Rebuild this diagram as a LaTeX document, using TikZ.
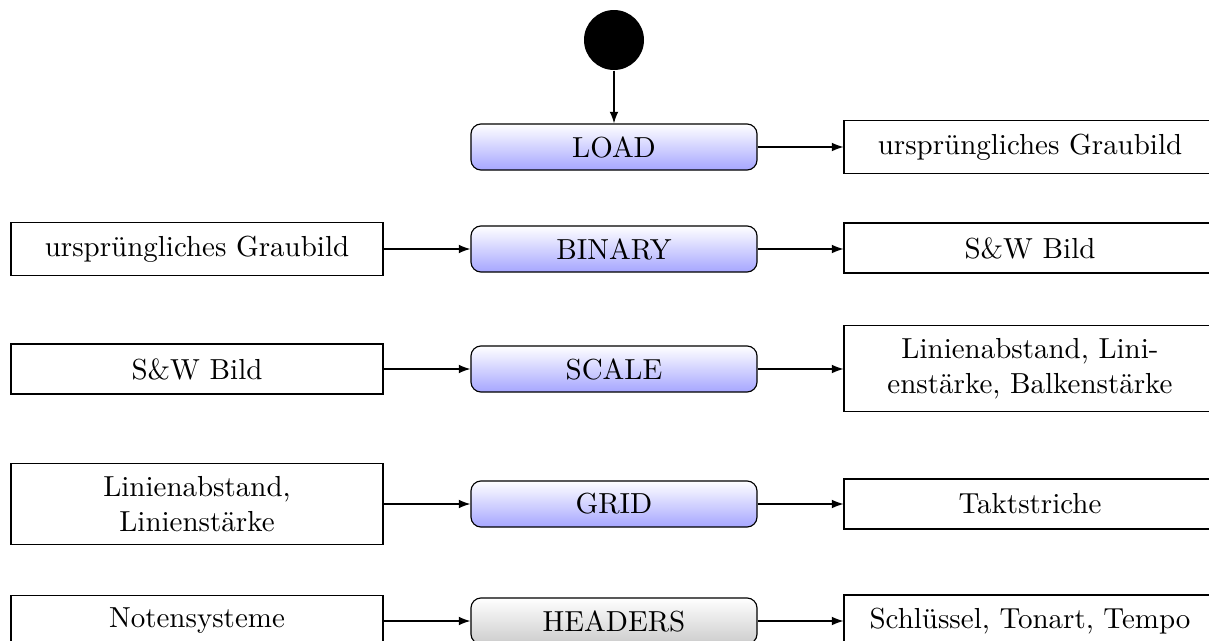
\documentclass[tikz,border=0pt]{standalone}
\usetikzlibrary{arrows.meta,positioning}
\begin{document}
\begin{tikzpicture}[x=0.345pt,y=-0.345pt,
  state/.style={draw, rounded corners=3.5pt, top color=white, bottom color=blue!35,
    minimum width=98.7pt, minimum height=15.9pt, inner sep=0pt},
  grstate/.style={state, bottom color=black!20},
  databox/.style={draw, minimum width=128.3pt, minimum height=17.2pt, align=center, inner sep=4.5pt},
  conn/.style={-{Latex[length=4pt,width=3pt]}, draw=black},
  startdot/.style={circle, fill=black, minimum size=20.7pt, inner sep=0pt}
]
\clip (0,0) rectangle (1209,641);
\useasboundingbox (0,0) rectangle (1209,641);

\node[startdot] (start) at (614,40) {};
\node[state] (load) at (614,147) {LOAD};
\node[state] (binary) at (614,249) {BINARY};
\node[state] (scale) at (614,369) {SCALE};
\node[state] (grid) at (614,504) {GRID};
\node[grstate] (headers) at (614,621) {HEADERS};

\node[databox] (r1) at (1030,147) {ursprüngliches Graubild};
\node[databox] (l2) at (197,249) {ursprüngliches Graubild};
\node[databox] (r2) at (1030,248) {S\&W Bild};
\node[databox] (l3) at (197,369) {S\&W Bild};
\node[databox] (r3) at (1030,368.5) {Linienabstand, Lini-\\enstärke, Balkenstärke};
\node[databox] (l4) at (197,504) {Linienabstand,\\Linienstärke};
\node[databox] (r4) at (1030,504) {Taktstriche};
\node[databox] (l5) at (197,621) {Notensysteme};
\node[databox] (r5) at (1030,621) {Schlüssel, Tonart, Tempo};

\draw[conn] (start) -- (load);
\draw[conn] (load) -- (r1);
\draw[conn] (l2) -- (binary);
\draw[conn] (binary) -- (r2.west |- binary);
\draw[conn] (l3) -- (scale);
\draw[conn] (scale) -- (r3.west |- scale);
\draw[conn] (l4) -- (grid);
\draw[conn] (grid) -- (r4);
\draw[conn] (l5) -- (headers);
\draw[conn] (headers) -- (r5);
\end{tikzpicture}
\end{document}
